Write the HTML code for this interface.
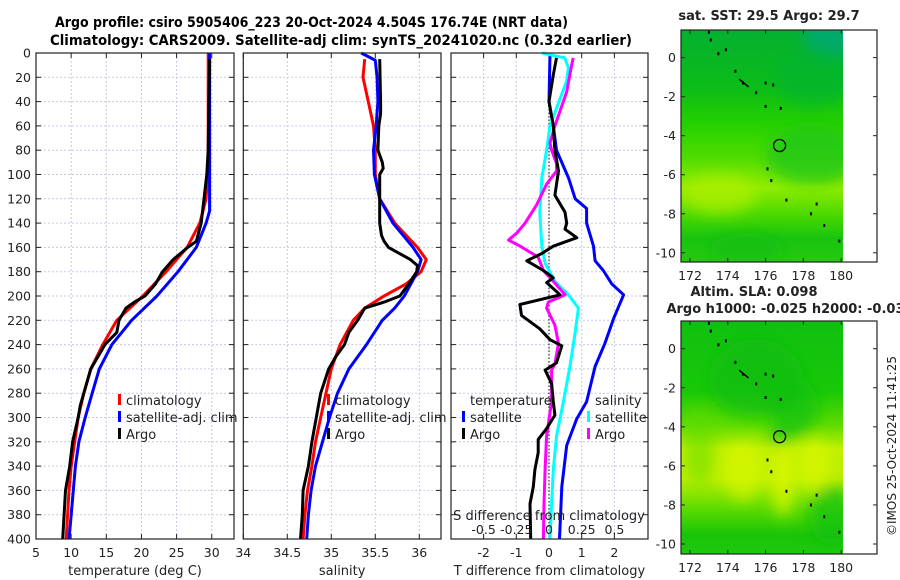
<!DOCTYPE html>
<html><head><meta charset="utf-8"><style>
html,body{margin:0;padding:0;background:#fff;}
svg{display:block;font-family:"DejaVu Sans","Liberation Sans",sans-serif;}
</style></head><body>
<svg id="fig" width="900" height="580" viewBox="0 0 900 580" xmlns="http://www.w3.org/2000/svg">
<defs>
<filter id="blur" x="-50%" y="-50%" width="200%" height="200%"><feGaussianBlur stdDeviation="7"/></filter>
<clipPath id="m1clip"><rect x="681" y="30" width="162" height="232"/></clipPath>
<clipPath id="m2clip"><rect x="681" y="321" width="162" height="233"/></clipPath>
<linearGradient id="g1" x1="0" y1="0" x2="0" y2="1">
<stop offset="0" stop-color="#04b030"/><stop offset="0.25" stop-color="#0cbc18"/><stop offset="0.4" stop-color="#24d000"/>
<stop offset="0.55" stop-color="#50dc00"/><stop offset="0.68" stop-color="#90ec00"/><stop offset="0.8" stop-color="#48d800"/>
<stop offset="0.9" stop-color="#18c410"/><stop offset="1" stop-color="#28c810"/></linearGradient>
<linearGradient id="g2" x1="0" y1="0" x2="0" y2="1">
<stop offset="0" stop-color="#10c010"/><stop offset="0.3" stop-color="#18c808"/><stop offset="0.45" stop-color="#60dc00"/>
<stop offset="0.55" stop-color="#c0f000"/><stop offset="0.68" stop-color="#b8ee00"/><stop offset="0.8" stop-color="#60dc00"/>
<stop offset="0.92" stop-color="#18c408"/><stop offset="1" stop-color="#20c810"/></linearGradient>
</defs>
<text x="55" y="27" font-size="14" font-weight="bold" textLength="513" lengthAdjust="spacingAndGlyphs">Argo profile: csiro 5905406_223 20-Oct-2024 4.504S 176.74E (NRT data)</text>
<text x="50" y="45" font-size="14" font-weight="bold" textLength="582" lengthAdjust="spacingAndGlyphs">Climatology: CARS2009. Satellite-adj clim: synTS_20241020.nc (0.32d earlier)</text>
<g id="plots"></g>
<g id="maps"></g>
<text transform="translate(896,446) rotate(-90)" text-anchor="middle" font-size="12" fill="#222">©IMOS 25-Oct-2024 11:41:25</text>
</svg>
<script>
// ---- data (depth in m) ----
const tDepths = [0,20,40,60,80,100,120,140,160,180,200,220,240,260,280,300,320,340,360,380,400];
const tempClim = [29.5,29.5,29.5,29.5,29.5,29.4,29.2,28.3,26.5,23.5,20.2,16.5,14.5,12.8,11.8,11.0,10.5,10.0,9.7,9.5,9.3];
const tempSatD = [0,20,40,60,80,100,130,140,160,180,200,220,240,260,280,300,320,340,360,380,400];
const tempSat = [29.7,29.7,29.7,29.7,29.7,29.7,29.7,29.2,27.8,25.2,22.2,18.6,15.8,14.0,13.0,12.0,11.1,10.6,10.3,10.0,9.7];
const tempArgoD = [5,40,80,100,120,140,155,160,170,180,190,200,205,210,220,230,240,250,260,270,280,290,300,320,340,360,380,400];
const tempArgo = [29.7,29.6,29.5,29.3,28.9,28.5,27.8,26.6,24.5,23.0,22.0,20.5,19.0,17.8,16.8,16.5,14.8,13.8,12.8,12.3,11.8,11.3,11.0,10.2,9.8,9.2,9.0,8.8];

const salClimD = [5,20,40,60,80,100,120,140,160,170,180,190,200,210,220,240,260,280,300,320,340,360,380,400];
const salClim = [35.38,35.36,35.42,35.48,35.5,35.5,35.55,35.72,35.98,36.08,36.02,35.85,35.6,35.38,35.25,35.1,35.0,34.94,34.88,34.82,34.78,34.73,34.7,34.68];
const salSatD = [0,3,6,20,40,60,80,100,120,140,160,170,180,200,210,220,240,260,280,300,320,340,360,380,400];
const salSat = [35.34,35.42,35.5,35.52,35.53,35.51,35.48,35.49,35.55,35.7,35.93,36.02,35.98,35.83,35.72,35.58,35.4,35.2,35.07,34.98,34.9,34.82,34.77,34.74,34.72];
const salArgoD = [5,40,50,60,80,90,95,100,110,140,150,155,160,170,175,180,190,200,205,210,220,230,240,250,260,280,300,320,340,360,380,400];
const salArgo = [35.55,35.56,35.56,35.54,35.53,35.58,35.59,35.55,35.55,35.55,35.57,35.6,35.65,35.9,35.98,35.97,35.88,35.78,35.6,35.38,35.3,35.2,35.15,35.05,34.97,34.88,34.83,34.78,34.74,34.68,34.67,34.65];

const dTSatD = [1,40,60,80,103,120,128,140,159,171,179,190,199,219,239,258,287,301,323,357,400];
const dTSat = [0.03,0,0.13,0.23,0.6,0.8,1.15,1.15,1.36,1.41,1.66,1.92,2.28,1.97,1.71,1.41,1.15,0.85,0.54,0.39,0.32];
const dTArgoD = [4,18,40,60,80,97,117,131,140,145,152,159,165,171,179,185,189,199,207,216,227,236,241,255,261,272,287,298,309,318,329,343,357,371,400];
const dTArgo = [0.23,0.13,0,0.13,0.18,0.29,0.18,0.49,0.54,0.49,0.85,0.13,-0.22,-0.68,-0.17,0.13,-0.07,0.34,-0.89,-0.84,-0.28,0.03,0.39,0.23,-0.12,0.08,0.13,0.18,-0.07,-0.33,-0.33,-0.43,-0.48,-0.58,-0.56];
const dSSatD = [0,4,12,23,60,80,103,131,159,173,188,199,210,230,258,287,315,343,371,400];
const dSSat = [-0.055,0.12,0.148,0.135,0.008,-0.018,-0.055,-0.07,-0.055,-0.03,0.045,0.148,0.225,0.2,0.16,0.11,0.058,0.033,0.02,0.008];
const dSArgoD = [4,9,32,60,74,80,91,97,108,125,140,148,154,159,168,179,188,199,205,210,224,239,256,261,287,315,343,371,400];
const dSArgo = [0.185,0.175,0.135,0.045,0.008,0.02,0.058,0.058,-0.018,-0.095,-0.183,-0.245,-0.31,-0.22,-0.083,-0.043,0.033,0.123,-0.005,-0.018,0.045,0.073,0.045,0.02,0.02,-0.018,-0.03,-0.038,-0.043];

const depthTicks = [0,20,40,60,80,100,120,140,160,180,200,220,240,260,280,300,320,340,360,380,400];
const tempTicks = [5,10,15,20,25,30];
const salTicks = [34,34.5,35,35.5,36];
const salTickLabels = ['34','34.5','35','35.5','36'];
const dTTicks = [-2,-1,0,1,2];
const dSTicks = [-0.5,-0.25,0,0.25,0.5];
const lonTicks = [172,174,176,178,180];
const latTicks = [0,-2,-4,-6,-8,-10];

// ---- geometry ----
const NS='http://www.w3.org/2000/svg';
const Y0=53, Y1=539;
const yD = d => Y0 + d*(Y1-Y0)/400;
const P = [
 {x0:36, x1:234, f:v=>36+(v-5)*7.03, name:'temperature'},
 {x0:243.3, x1:441, f:v=>243.3+(v-34)*88, name:'salinity'},
 {x0:451, x1:648, f:v=>549+v*32.7, name:'difference'}];
const xS = v => 549 + v*130.8;
const plots=document.getElementById('plots');
function el(tag, attrs, parent){const e=document.createElementNS(NS,tag);for(const k in attrs)e.setAttribute(k,attrs[k]);(parent||plots).appendChild(e);return e;}
function txt(x,y,s,size,anchor,parent){const t=el('text',{x:x,y:y,'font-size':size||12,'text-anchor':anchor||'middle',fill:'#222'},parent);t.textContent=s;return t;}

function drawPanel(p, xticks, xlabels, xtitle){
  const g=el('g',{});
  
  
  depthTicks.forEach(d=>{
    const y=yD(d);
    if(d>0&&d<400){const l=el('line',{x1:p.x0,x2:p.x1,y1:y,y2:y,stroke:'#c5c9e2','stroke-dasharray':'2,2','stroke-width':1},g);
     }
    el('line',{x1:p.x0,x2:p.x0+5,y1:y,y2:y,stroke:'#222'},g);
    el('line',{x1:p.x1-5,x2:p.x1,y1:y,y2:y,stroke:'#222'},g);
  });
  xticks.forEach((v,i)=>{
    const x=p.f(v);
    if(x>p.x0+1&&x<p.x1-1){const l=el('line',{x1:x,x2:x,y1:Y0,y2:Y1,stroke:'#c5c9e2','stroke-dasharray':'2,2'},g);
     }
    el('line',{x1:x,x2:x,y1:Y0,y2:Y0+5,stroke:'#222'},g);
    el('line',{x1:x,x2:x,y1:Y1-5,y2:Y1,stroke:'#222'},g);
    const t=txt(x,557,xlabels[i],12.5,'middle',g);
     
  });
  const tt=txt((p.x0+p.x1)/2,575,xtitle,13,'middle',g);
   
  return g;
}
depthTicks.forEach(d=>{const t=txt(31,yD(d)+4.5,String(d),12.5,'end');
  });
const g1=drawPanel(P[0],tempTicks,tempTicks.map(String),'temperature (deg C)');
const g2=drawPanel(P[1],salTicks,salTickLabels,'salinity');
const g3=drawPanel(P[2],dTTicks,dTTicks.map(String),'T difference from climatology');
const zl=el('line',{x1:549,x2:549,y1:Y0,y2:Y1,stroke:'#333','stroke-dasharray':'1.5,2','stroke-width':1.2},g3);
 

function line(g,depths,vals,fx,color,name){
  const d=depths.map((dd,i)=>(i?'L':'M')+fx(vals[i]).toFixed(1)+','+yD(dd).toFixed(1)).join(' ');
  const p=el('path',{d:d,fill:'none',stroke:color,'stroke-width':3,'stroke-linejoin':'round'},g);
   
}
line(g1,tDepths,tempClim,P[0].f,'#ff0000','temp-climatology-line');
line(g1,tempSatD,tempSat,P[0].f,'#0000ff','temp-satellite-line');
line(g1,tempArgoD,tempArgo,P[0].f,'#000000','temp-argo-line');
line(g2,salClimD,salClim,P[1].f,'#ff0000','sal-climatology-line');
line(g2,salSatD,salSat,P[1].f,'#0000ff','sal-satellite-line');
line(g2,salArgoD,salArgo,P[1].f,'#000000','sal-argo-line');
line(g3,dTSatD,dTSat,P[2].f,'#0000ff','dT-satellite-line');
line(g3,dSSatD,dSSat,xS,'#00ffff','dS-satellite-line');
line(g3,dSArgoD,dSArgo,xS,'#ff00ff','dS-argo-line');
line(g3,dTArgoD,dTArgo,P[2].f,'#000000','dT-argo-line');

P.forEach(p=>{const r=el('rect',{x:p.x0,y:Y0,width:p.x1-p.x0,height:Y1-Y0,fill:'none',stroke:'#222','stroke-width':1.2});
  });

const sd=txt(549,520,'S difference from climatology',13,'middle',g3);
 
dSTicks.forEach(v=>{const t=txt(xS(v),534,String(v),12.5,'middle',g3);
  });

function legend(g,x,y,items,name){
  const lg=el('g',{},g);
   
  items.forEach((it,i)=>{
    const yy=y+i*17;
    if(it[1]) el('rect',{x:x-8,y:yy-11,width:3,height:11,fill:it[1]},lg);
    txt(x,yy,it[0],13,'start',lg);
  });
}
legend(g1,126,405,[['climatology','#ff0000'],['satellite-adj. clim','#0000ff'],['Argo','#000000']],'temperature-legend');
legend(g2,335,405,[['climatology','#ff0000'],['satellite-adj. clim','#0000ff'],['Argo','#000000']],'salinity-legend');
legend(g3,470,405,[['temperature',null],['satellite','#0000ff'],['Argo','#000000']],'diff-temperature-legend');
legend(g3,595,405,[['salinity',null],['satellite','#00ffff'],['Argo','#ff00ff']],'diff-salinity-legend');

// ---- maps ----
const maps=document.getElementById('maps');
const lonX = v => 690 + (v-172)*18.9;
function mapPanel(top,bottom,lat0y,lat10y,grad,clip,extra,name,titles,titleY){
  const g=el('g',{},maps);
   
  const latY = v => lat0y + (-v)*(lat10y-lat0y)/10;
  const cg=el('g',{'clip-path':'url(#'+clip+')'},g);
  el('rect',{x:681,y:top,width:162,height:bottom-top,fill:'url(#'+grad+')'},cg);
  const bg=el('g',{filter:'url(#blur)'},cg);
  extra.forEach(e=>el('ellipse',{cx:lonX(e[0]),cy:latY(e[1]),rx:e[2]*18.9,ry:e[3]*19.5,fill:e[4],opacity:e[5]},bg));
  const isl=[[173,1.3],[173.1,0.9],[173.5,0.2],[173.9,0.4],[174.4,-0.7],[174.8,-1.3],[175.5,-1.8],[176,-1.3],[176.4,-1.4],[176,-2.5],[176.8,-2.6],[176.1,-5.7],[176.3,-6.3],[177.1,-7.3],[178.4,-8.0],[178.7,-7.5],[179.1,-8.6],[179.9,-9.4]];
  isl.forEach(p=>el('rect',{x:lonX(p[0])-1,y:latY(p[1])-1.5,width:2,height:3,fill:'#000'},g));
  el('path',{d:'M'+lonX(174.6)+','+latY(-1.1)+' L'+lonX(175.1)+','+latY(-1.5),stroke:'#000','stroke-width':1.5},g);
  const c=el('circle',{cx:lonX(176.74),cy:latY(-4.504),r:6,fill:'none',stroke:'#000','stroke-width':1.3},g);
   
  el('rect',{x:681,y:top,width:196,height:bottom-top,fill:'none',stroke:'#222','stroke-width':1.2},g);
  lonTicks.forEach(v=>{const x=lonX(v);
    el('line',{x1:x,x2:x,y1:bottom,y2:bottom-4,stroke:'#222'},g);el('line',{x1:x,x2:x,y1:top,y2:top+4,stroke:'#222'},g);
    const t=txt(x,bottom+18,String(v),12.5,'middle',g);});
  latTicks.forEach(v=>{const y=latY(v);
    el('line',{x1:681,x2:685,y1:y,y2:y,stroke:'#222'},g);el('line',{x1:873,x2:877,y1:y,y2:y,stroke:'#222'},g);
    const t=txt(676,y+4.5,String(v),12.5,'end',g);});
  titles.forEach((s,i)=>{const t=txt(s[1],titleY+i*17,s[0],13,'middle',g);t.setAttribute('font-weight','bold');
    });
}
mapPanel(30,262,57.6,252.8,'g1','m1clip',
 [[179.5,1.2,1.5,1.2,'#00a870',0.9],[178.5,-1,2,1.5,'#08b430',0.6],[178.5,-5,2.5,1.5,'#18c418',0.7],[173.5,-7,2,1,'#b0f000',0.7],[175,-9.8,2,0.8,'#10bc10',0.6]],
 'sst-map',[['sat. SST: 29.5 Argo: 29.7',769]],20);
mapPanel(321,554,348.7,544,'g2','m2clip',
 [[175.5,-1.5,2.5,2,'#10bc10',0.7],[177.5,-3,1.3,1.5,'#10c010',0.7],[174.8,-6.3,1,1.5,'#e0f800',0.6],[176.9,-6.8,0.6,1.8,'#e0f800',0.7],[178.6,-6,0.8,1.4,'#e0f800',0.6],[172.5,-5,0.8,2,'#60dc00',0.5],[179.5,-8.5,1.2,1.5,'#10c010',0.7],[176.7,-4.5,0.5,0.4,'#20c020',0.8]],
 'sla-map',[['Altim. SLA: 0.098',754],['Argo h1000: -0.025 h2000: -0.036',790]],296);
</script>
</body></html>
